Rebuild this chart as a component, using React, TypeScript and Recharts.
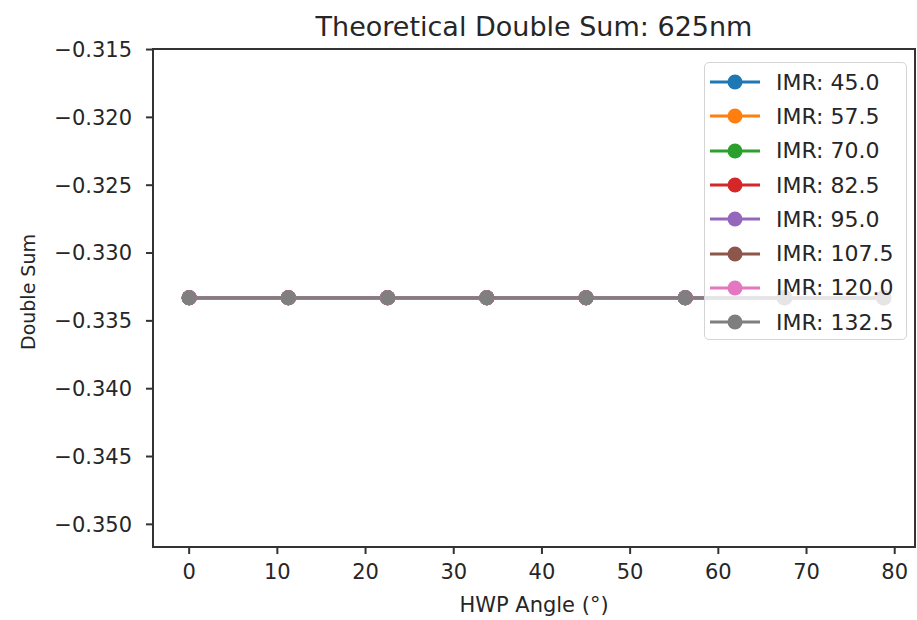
import { LineChart, Line, XAxis, YAxis, Legend, ReferenceArea } from "recharts";

const FONT = "'DejaVu Sans', sans-serif";

// HWP angles in degrees
const angles = [0, 11.25, 22.5, 33.75, 45, 56.25, 67.5, 78.75];

// double sum per IMR setting (all flat at -1/3)
const imr450 = [-0.3333, -0.3333, -0.3333, -0.3333, -0.3333, -0.3333, -0.3333, -0.3333];
const imr575 = [-0.3333, -0.3333, -0.3333, -0.3333, -0.3333, -0.3333, -0.3333, -0.3333];
const imr700 = [-0.3333, -0.3333, -0.3333, -0.3333, -0.3333, -0.3333, -0.3333, -0.3333];
const imr825 = [-0.3333, -0.3333, -0.3333, -0.3333, -0.3333, -0.3333, -0.3333, -0.3333];
const imr950 = [-0.3333, -0.3333, -0.3333, -0.3333, -0.3333, -0.3333, -0.3333, -0.3333];
const imr1075 = [-0.3333, -0.3333, -0.3333, -0.3333, -0.3333, -0.3333, -0.3333, -0.3333];
const imr1200 = [-0.3333, -0.3333, -0.3333, -0.3333, -0.3333, -0.3333, -0.3333, -0.3333];
const imr1325 = [-0.3333, -0.3333, -0.3333, -0.3333, -0.3333, -0.3333, -0.3333, -0.3333];

const seriesLabels = [
  "IMR: 45.0",
  "IMR: 57.5",
  "IMR: 70.0",
  "IMR: 82.5",
  "IMR: 95.0",
  "IMR: 107.5",
  "IMR: 120.0",
  "IMR: 132.5",
];
const seriesColors = ["#1f77b4", "#ff7f0e", "#2ca02c", "#d62728", "#9467bd", "#8c564b", "#e377c2", "#7f7f7f"];

const xTicks = [0, 10, 20, 30, 40, 50, 60, 70, 80];
const yTicks = [-0.35, -0.345, -0.34, -0.335, -0.33, -0.325, -0.32, -0.315];

const xDomain = [-4.1, 82.3];
const yDomain = [-0.35167, -0.31496];

const allSeries = [imr450, imr575, imr700, imr825, imr950, imr1075, imr1200, imr1325];

const data = angles.map((a, i) => {
  const row: Record<string, number> = { angle: a };
  allSeries.forEach((s, k) => {
    row["s" + k] = s[i];
  });
  return row;
});

const fmtY = (v: number) => (v < 0 ? "\u2212" : "") + Math.abs(v).toFixed(3);

function LegendBox() {
  return (
    <div
      style={{
        width: 203,
        height: 278,
        boxSizing: "border-box",
        border: "1px solid #d4d4d4",
        borderRadius: 5,
        background: "rgba(255,255,255,0.8)",
        paddingTop: 2,
        fontFamily: FONT,
        fontSize: 22,
        color: "#262626",
      }}
    >
      {seriesLabels.map((lab, i) => (
        <div key={lab} style={{ display: "flex", alignItems: "center", height: 34.3 }}>
          <svg width={50} height={16} style={{ marginLeft: 5 }}>
            <line x1={0} y1={8} x2={50} y2={8} stroke={seriesColors[i]} strokeWidth={3} />
            <circle cx={25} cy={8} r={7.5} fill={seriesColors[i]} />
          </svg>
          <span style={{ marginLeft: 16, whiteSpace: "nowrap" }}>{lab}</span>
        </div>
      ))}
    </div>
  );
}

export default function App() {
  const tickStyle = { fill: "#262626", fontSize: 21, fontFamily: FONT };
  return (
    <div style={{ position: "relative", width: 917, height: 620, background: "#fff" }}>
      <style>{"body{margin:0}"}</style>
      <div
        style={{
          position: "absolute",
          left: 153,
          width: 762,
          top: 13,
          textAlign: "center",
          fontFamily: FONT,
          fontSize: 27,
          lineHeight: "27px",
          color: "#262626",
        }}
      >
        Theoretical Double Sum: 625nm
      </div>
      <LineChart width={917} height={620} data={data} margin={{ top: 49, right: 2, bottom: 33, left: 73 }}>
        <ReferenceArea
          x1={xDomain[0]}
          x2={xDomain[1]}
          y1={yDomain[0]}
          y2={yDomain[1]}
          fill="none"
          stroke="#333"
          strokeWidth={2}
          ifOverflow="visible"
        />
        <XAxis
          dataKey="angle"
          type="number"
          domain={xDomain}
          ticks={xTicks}
          allowDataOverflow
          axisLine={false}
          tickSize={7}
          tickMargin={10}
          tickLine={{ stroke: "#333", strokeWidth: 2 }}
          tick={tickStyle}
          height={40}
        />
        <YAxis
          type="number"
          domain={yDomain}
          ticks={yTicks}
          allowDataOverflow
          axisLine={false}
          tickSize={7}
          tickMargin={14}
          tickLine={{ stroke: "#333", strokeWidth: 2 }}
          tick={tickStyle}
          tickFormatter={fmtY}
          width={80}
        />
        {seriesLabels.map((lab, k) => (
          <Line
            key={lab}
            name={lab}
            dataKey={"s" + k}
            stroke={seriesColors[k]}
            strokeWidth={3}
            dot={{ r: 7.5, fill: seriesColors[k], stroke: "none" }}
            activeDot={false}
            isAnimationActive={false}
          />
        ))}
        <Legend
          layout="vertical"
          align="center"
          verticalAlign="middle"
          content={() => <LegendBox />}
          wrapperStyle={{ position: "absolute", left: 704, top: 62, width: 203, height: 278 }}
        />
      </LineChart>
      <div
        style={{
          position: "absolute",
          left: 153,
          width: 762,
          top: 595,
          textAlign: "center",
          fontFamily: FONT,
          fontSize: 21,
          lineHeight: "21px",
          color: "#262626",
        }}
      >
        HWP Angle (°)
      </div>
      <div
        style={{
          position: "absolute",
          left: 28,
          top: 292,
          transform: "translate(-50%, -50%) rotate(-90deg)",
          fontFamily: FONT,
          fontSize: 19,
          lineHeight: "19px",
          whiteSpace: "nowrap",
          color: "#262626",
        }}
      >
        Double Sum
      </div>
    </div>
  );
}
